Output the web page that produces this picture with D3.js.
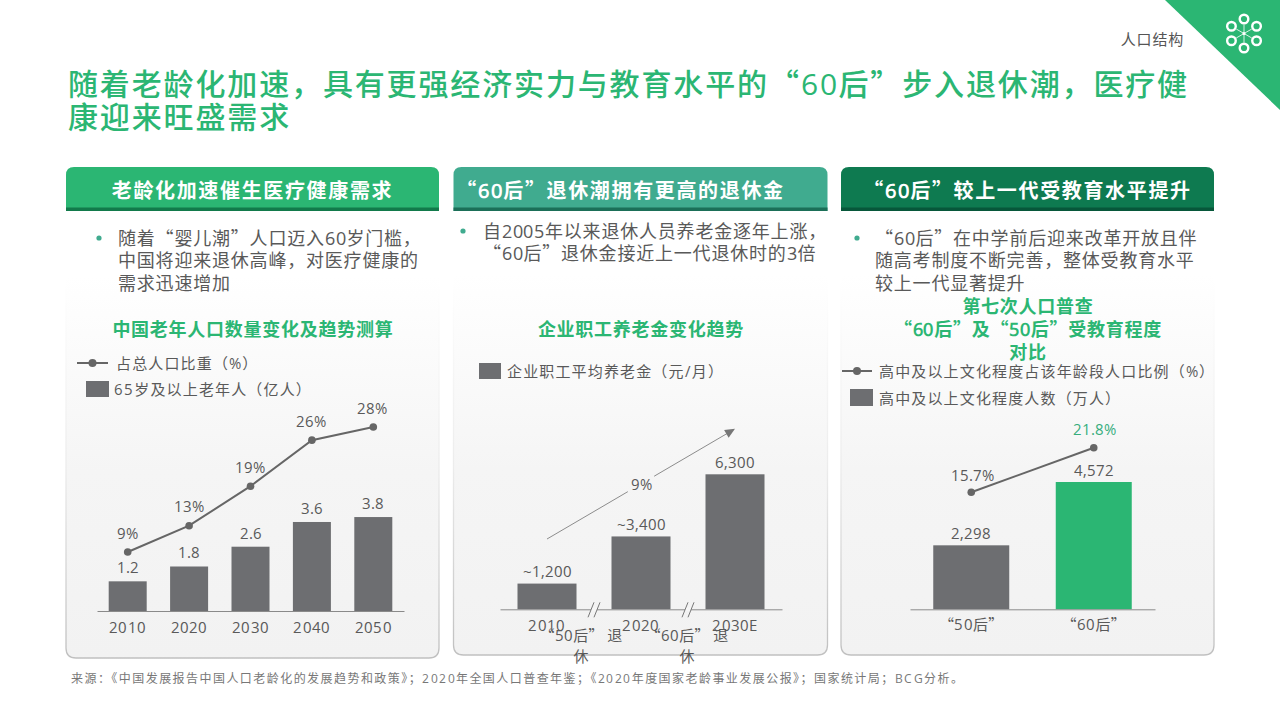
<!DOCTYPE html>
<html><head><meta charset="utf-8">
<script src="https://cdn.jsdelivr.net/npm/d3@7"></script>
<style>
@font-face{font-family:"Digits";src:local("Open Sans");unicode-range:U+25,U+2C-39,U+41-5A,U+7E;}
html,body{margin:0;padding:0;background:#fff;width:1280px;height:720px;overflow:hidden}
svg{display:block;font-family:"Digits","Noto Sans CJK SC",sans-serif}
</style></head><body>
<svg id="c" width="1280" height="720"></svg>
<script>
// ---- data ----
const titleLines=["随着老龄化加速，具有更强经济实力与教育水平的“60后”步入退休潮，医疗健","康迎来旺盛需求"];
const sectionTag="人口结构";
const headers=["老龄化加速催生医疗健康需求","“60后”退休潮拥有更高的退休金","“60后”较上一代受教育水平提升"];
const bullets1=["随着“婴儿潮”人口迈入60岁门槛，","中国将迎来退休高峰，对医疗健康的","需求迅速增加"];
const bullets2=["自2005年以来退休人员养老金逐年上涨，","“60后”退休金接近上一代退休时的3倍"];
const bullets3=["“60后”在中学前后迎来改革开放且伴","随高考制度不断完善，整体受教育水平","较上一代显著提升"];
const chartTitle1=["中国老年人口数量变化及趋势测算"];
const chartTitle2=["企业职工养老金变化趋势"];
const chartTitle3=["第七次人口普查","“60后”及“50后”受教育程度","对比"];
const years=["2010","2020","2030","2040","2050"];
const elderly=[1.2,1.8,2.6,3.6,3.8];
const elderlyShare=[9,13,19,26,28];
const legend1=["占总人口比重（%）","65岁及以上老年人（亿人）"];
const pensionYears=["2010","2020","2030E"];
const pension=[1200,3400,6300];
const pensionLabels=["~1,200","~3,400","6,300"];
const legend2=["企业职工平均养老金（元/月）"];
const cagrLabel="9%";
const cagrArrow=[3280,8420];
const breakLabels=[["“50后” 退","休"],["“60后” 退","休"]];
const cohorts=["“50后”","“60后”"];
const eduCount=[2298,4572];
const eduShare=[15.7,21.8];
const legend3=["高中及以上文化程度占该年龄段人口比例（%）","高中及以上文化程度人数（万人）"];
const source="来源：《中国发展报告中国人口老龄化的发展趋势和政策》；2020年全国人口普查年鉴；《2020年度国家老龄事业发展公报》；国家统计局；BCG分析。";

// ---- style ----
const GREEN="#2bb673",TEAL="#40ab8f",DARK="#0e7a50",GREY="#6d6e71",TXT="#595959",LINE="#666";
const svg=d3.select("#c");
const defs=svg.append("defs");
const pg=defs.append("linearGradient").attr("id","pg").attr("x1",0).attr("y1",0).attr("x2",0).attr("y2",1);
pg.append("stop").attr("offset",0.22).attr("stop-color","#ffffff");
pg.append("stop").attr("offset",0.62).attr("stop-color","#f5f5f5");
pg.append("stop").attr("offset",1).attr("stop-color","#f2f2f2");
const bg=defs.append("linearGradient").attr("id","bg").attr("gradientUnits","userSpaceOnUse").attr("x1",0).attr("y1",280).attr("x2",0).attr("y2",655);
bg.append("stop").attr("offset",0).attr("stop-color","#ffffff");
bg.append("stop").attr("offset",0.5).attr("stop-color","#ececec");
bg.append("stop").attr("offset",1).attr("stop-color","#c0c0c0");

function text(g,s,x,y,o={}){
  return g.append("text").attr("x",x).attr("y",y).text(s)
    .attr("text-anchor",o.anchor||"start").attr("dominant-baseline","central")
    .attr("font-size",o.size||15).attr("font-weight",o.weight||400)
    .attr("letter-spacing",o.ls||0).attr("fill",o.fill||TXT).style("white-space","pre");
}

// corner
svg.append("path").attr("d",d3.line()([[1165,0],[1280,0],[1280,110]])+"Z").attr("fill",GREEN);
text(svg,sectionTag,1184,38,{anchor:"end",size:15,fill:"#555",ls:0.8});
const logo=svg.append("g").attr("transform","translate(1244,33.5)").attr("fill","none").attr("stroke","#fff");
d3.range(6).forEach(i=>{
  const a=Math.PI/3*i-Math.PI/2,cx=Math.cos(a)*14.5,cy=Math.sin(a)*14.5;
  logo.append("line").attr("x2",Math.cos(a)*9).attr("y2",Math.sin(a)*9).attr("stroke-width",.8);
  logo.append("circle").attr("cx",cx).attr("cy",cy).attr("r",4.3).attr("stroke-width",2.4);
});
logo.append("circle").attr("r",1.5).attr("fill","#fff").attr("stroke","none");

// title
titleLines.forEach((l,i)=>text(svg,l,68,81.5+i*33,{size:30,weight:500,fill:GREEN,ls:1.86}));

// panels
const panels=[{x:66,w:373,b:658,c:GREEN},{x:453.5,w:374,b:655,c:TEAL},{x:841,w:373,b:655,c:DARK}];
panels.forEach((p,i)=>{
  const r=10,t=167;
  svg.append("path").attr("d",`M${p.x},${t}V${p.b-r}Q${p.x},${p.b} ${p.x+r},${p.b}H${p.x+p.w-r}Q${p.x+p.w},${p.b} ${p.x+p.w},${p.b-r}V${t}Z`)
    .attr("fill","url(#pg)");
  svg.append("path").attr("d",`M${p.x},280V${p.b-r}Q${p.x},${p.b} ${p.x+r},${p.b}H${p.x+p.w-r}Q${p.x+p.w},${p.b} ${p.x+p.w},${p.b-r}V280`)
    .attr("fill","none").attr("stroke","url(#bg)").attr("stroke-width",1.3);
  svg.append("path").attr("d",`M${p.x},211V175Q${p.x},167 ${p.x+8},167H${p.x+p.w-8}Q${p.x+p.w},167 ${p.x+p.w},175V211Z`).attr("fill",p.c);
  svg.append("rect").attr("x",p.x).attr("y",207.5).attr("width",p.w).attr("height",3.5)
    .attr("fill",i===2?"#07573a":i===1?"#1b6f58":"#127a4b");
  text(svg,headers[i],p.x+p.w/2-(i===0?0:i===1?20:0),189.5,{anchor:"middle",size:20,weight:700,fill:"#fff",ls:1.65});
});

function bullet(lines,bx,tx,y0){
  svg.append("circle").attr("cx",bx).attr("cy",y0).attr("r",2.6).attr("fill",TEAL);
  lines.forEach((l,i)=>text(svg,l,tx,y0-1+i*22.3,{size:18,ls:0.8}));
}
bullet(bullets1,99,118,238);
bullet(bullets2,463,483,231);
bullet(bullets3,857,875,238);

const ct={size:18,weight:700,fill:GREEN,anchor:"middle",ls:0.75};
chartTitle1.forEach(l=>text(svg,l,253,328,ct));
chartTitle2.forEach(l=>text(svg,l,641,328,ct));
chartTitle3.forEach((l,i)=>text(svg,l,1028,305+i*23,ct));

function legLine(x1,x2,y,tx,s){
  svg.append("line").attr("x1",x1).attr("x2",x2).attr("y1",y).attr("y2",y).attr("stroke",LINE).attr("stroke-width",2);
  svg.append("circle").attr("cx",(x1+x2)/2).attr("cy",y).attr("r",4).attr("fill",LINE);
  text(svg,s,tx,y-.5,{size:15,ls:1.15});
}
function legRect(x,y,w,h,tx,s){
  svg.append("rect").attr("x",x).attr("y",y).attr("width",w).attr("height",h).attr("fill",GREY);
  text(svg,s,tx,y+h/2-.5,{size:15,ls:1.15});
}
legLine(77,108,363,116,legend1[0]);
legRect(86,381,23,16,114,legend1[1]);
legRect(479,363,22,16,507,legend2[0]);
legLine(842,872,371,879,legend3[0]);
legRect(850,389,23,17,879,legend3[1]);

function axis(x,base,pad){
  const g=svg.append("g").attr("transform",`translate(0,${base})`).call(d3.axisBottom(x).tickSize(0).tickPadding(pad));
  g.attr("font-family",null).attr("font-size",null);
  g.select(".domain").attr("stroke","#8a8a8a").attr("stroke-width",1);
  g.selectAll("text").attr("font-size",15).attr("fill",TXT).attr("letter-spacing",0.3);
  return g;
}
function bars(data,x,y,base,colors,bw){
  svg.append("g").selectAll("rect").data(data).join("rect")
    .attr("x",d=>x(d.k)+x.bandwidth()/2-bw/2).attr("width",bw)
    .attr("y",d=>y(d.v)).attr("height",d=>base-y(d.v))
    .attr("fill",(d,i)=>colors[i%colors.length]);
}
function labels(data,fx,fy,fmt,fill){
  data.forEach((d,i)=>text(svg,fmt(d,i),fx(d),fy(d),{anchor:"middle",size:14.5,fill:Array.isArray(fill)?fill[i]:fill}));
}

// chart 1
{
  const base=611;
  const x=d3.scaleBand().domain(years).range([97,404]);
  const y=d3.scaleLinear().domain([0,4]).range([base,base-98.9]);
  const yL=d3.scaleLinear().domain([9,28]).range([552,427]);
  const cx=k=>x(k)+x.bandwidth()/2;
  const d=years.map((k,i)=>({k,v:elderly[i],s:elderlyShare[i]}));
  bars(d,x,y,base,[GREY],38);
  axis(x,base,11.5);
  svg.append("path").datum(d).attr("d",d3.line().x(e=>cx(e.k)).y(e=>yL(e.s))).attr("fill","none").attr("stroke",LINE).attr("stroke-width",2);
  svg.append("g").selectAll("circle").data(d).join("circle").attr("cx",e=>cx(e.k)).attr("cy",e=>yL(e.s)).attr("r",3.8).attr("fill",LINE);
  labels(d,e=>cx(e.k),e=>y(e.v)-14.5,e=>e.v.toFixed(1),TXT);
  labels(d,e=>cx(e.k)+(e.s>=19?-1:0),e=>yL(e.s)-20,e=>e.s+"%",TXT);
}
// chart 2
{
  const base=609.3;
  const x=d3.scaleBand().domain(pensionYears).range([500,782]);
  const y=d3.scaleLinear().domain([0,6300]).range([base,base-135]);
  const cx=k=>x(k)+x.bandwidth()/2;
  const d=pensionYears.map((k,i)=>({k,v:pension[i]}));
  bars(d,x,y,base,[GREY],59);
  axis(x,base,11);
  labels(d,e=>cx(e.k),e=>y(e.v)-13,(e,i)=>pensionLabels[i],TXT);
  // growth arrow, broken around its label
  const x0=cx(pensionYears[0]),x1=cx(pensionYears[2]),y0=y(cagrArrow[0]),y1=y(cagrArrow[1]);
  const at=t=>[x0+(x1-x0)*t,y0+(y1-y0)*t];
  const seg=(a,b)=>svg.append("line").attr("x1",at(a)[0]).attr("y1",at(a)[1]).attr("x2",at(b)[0]).attr("y2",at(b)[1]).attr("stroke","#8c8c8c").attr("stroke-width",1);
  seg(0,0.43); seg(0.57,0.97);
  const ang=Math.atan2(y1-y0,x1-x0)*180/Math.PI;
  svg.append("path").attr("d","M0,0L-10,-4.5L-10,4.5Z").attr("transform",`translate(${x1},${y1}) rotate(${ang})`).attr("fill","#777");
  text(svg,cagrLabel,(x0+x1)/2,483,{anchor:"middle",size:14.5});
  // axis breaks with their wrapped labels
  [[0,1,-13],[1,2,-1]].forEach(([a,b,dx],i)=>{
    const m=(cx(pensionYears[a])+cx(pensionYears[b]))/2;
    svg.append("rect").attr("x",m-3).attr("y",base-2).attr("width",6).attr("height",4).attr("fill","#f6f6f6");
    [-3,3].forEach(o=>svg.append("line").attr("x1",m+o-3).attr("x2",m+o+3).attr("y1",base+8).attr("y2",base-7).attr("stroke","#777").attr("stroke-width",1));
    const cxl=m+dx;
    text(svg,breakLabels[i][0],cxl,634,{anchor:"middle",size:15,ls:0.2});
    text(svg,breakLabels[i][1],cxl,655,{anchor:"middle",size:15});
  });
}
// chart 3
{
  const base=609.3;
  const x=d3.scaleBand().domain(cohorts).range([910,1155]);
  const y=d3.scaleLinear().domain([0,4572]).range([base,base-127.3]);
  const yL=d3.scaleLinear().domain([15.7,21.8]).range([492.3,447.7]);
  const cx=k=>x(k)+x.bandwidth()/2;
  const d=cohorts.map((k,i)=>({k,v:eduCount[i],s:eduShare[i]}));
  bars(d,x,y,base,[GREY,GREEN],76);
  axis(x,base,10);
  svg.append("path").datum(d).attr("d",d3.line().x(e=>cx(e.k)).y(e=>yL(e.s))).attr("fill","none").attr("stroke",LINE).attr("stroke-width",2);
  svg.append("g").selectAll("circle").data(d).join("circle").attr("cx",e=>cx(e.k)).attr("cy",e=>yL(e.s)).attr("r",3.8).attr("fill",LINE);
  labels(d,e=>cx(e.k),e=>y(e.v)-13,e=>d3.format(",")(e.v),TXT);
  labels(d,e=>cx(e.k)+1,e=>yL(e.s)-(e.s>20?19:18),e=>e.s.toFixed(1)+"%",[TXT,"#35ad7c"]);
}
text(svg,source,71,677,{size:12,fill:"#777",ls:1.45});
</script></body></html>
